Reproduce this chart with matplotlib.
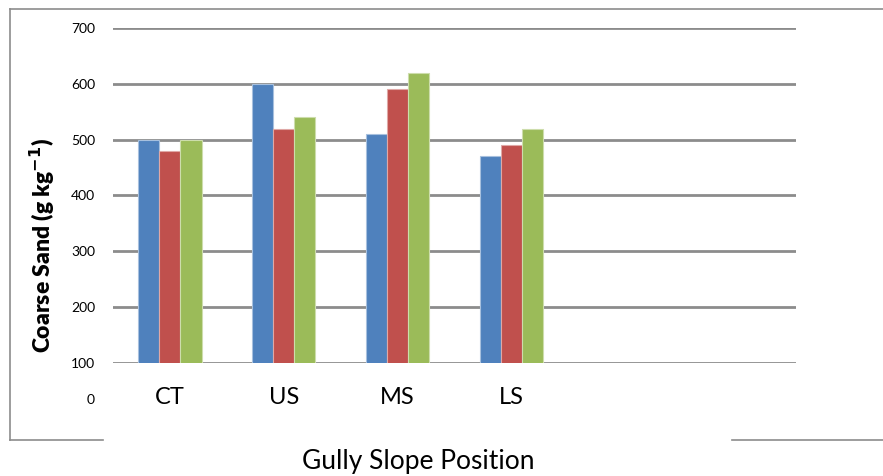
import numpy as np
import matplotlib
matplotlib.use('Agg')
import matplotlib.pyplot as plt
from matplotlib.lines import Line2D

plt.rcParams['font.family'] = ['Lato', 'DejaVu Sans']

### data
categories = ['CT', 'US', 'MS', 'LS', '', '']
series_1 = [500, 600, 510, 470]
series_2 = [480, 520, 590, 490]
series_3 = [500, 540, 620, 520]
y_ticks = [100, 200, 300, 400, 500, 600, 700]

colors = ['#4F81BD', '#C0504D', '#9BBB59']
edges = ['#A7C0DE', '#DFA8A6', '#CDDDAC']

fig = plt.figure(figsize=(8.83, 4.76), dpi=100)
ax = fig.add_axes([113/883, 1-363/476, (796-113)/883, (363-28)/476])

index = np.arange(len(categories))
bar_width = 0.185
for k, vals in enumerate([series_1, series_2, series_3]):
    ax.bar(index[:len(vals)] + (k-1)*bar_width, vals, bar_width,
           color=colors[k], edgecolor=edges[k], linewidth=0.8, zorder=3)

ax.set_xlim(-0.5, len(categories)-0.5)
ax.set_ylim(100, 700)
ax.set_yticks(y_ticks)
ax.set_yticklabels([str(t) for t in y_ticks], fontsize=10)
ax.set_xticks(index)
ax.set_xticklabels(categories, fontsize=17)
ax.tick_params(axis='y', length=0, pad=13)
ax.tick_params(axis='x', length=0, pad=17)
ax.grid(axis='y', color='#8C8C8C', linewidth=2, zorder=1)
for s in ax.spines.values():
    s.set_visible(False)

# the extra "0" label below the axis
fig.text(95/883, 1-400/476, '0', fontsize=10, ha='right', va='center')

fig.text(42/883, 1-246/476, 'Coarse Sand (g kg$^{\\mathbf{-1}}$)', fontsize=16.5,
         fontweight='heavy', rotation=90, ha='center', va='center')
fig.text(418/883, 1-462/476, 'Gully Slope Position', fontsize=19, ha='center', va='center')

## outer frame
fc = '#8C8C8C'
fig.add_artist(Line2D([10/883, 883/883], [1-9/476, 1-9/476], color=fc, lw=1.2))
fig.add_artist(Line2D([10/883, 10/883], [1-9/476, 1-440/476], color=fc, lw=1.2))
fig.add_artist(Line2D([10/883, 103/883], [1-440/476, 1-440/476], color=fc, lw=1.2))
fig.add_artist(Line2D([732/883, 883/883], [1-440/476, 1-440/476], color=fc, lw=1.2))

plt.savefig('out.png', dpi=100)
